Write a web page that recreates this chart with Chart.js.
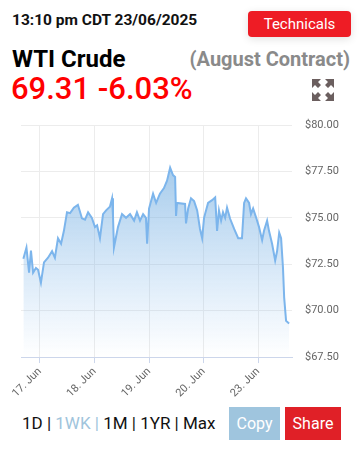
<!DOCTYPE html>
<html>
<head>
<meta charset="utf-8">
<script src="https://cdn.jsdelivr.net/npm/chart.js@4"></script>
<style>
  body { margin: 0; width: 362px; height: 462px; background: #fff; font-family: Roboto, sans-serif; position: relative; overflow: hidden; }
  .abs { position: absolute; white-space: nowrap; }
  #stamp { left: 12px; top: 11px; font-size: 15.5px; font-weight: bold; color: #111; }
  #tech { left: 248px; top: 11px; width: 103px; height: 26px; background: #ee1c25; color: #fff; border-radius: 4px; font-size: 15px; line-height: 26px; text-align: center; box-shadow: 0 2px 8px rgba(0,0,0,0.12); }
  #name { left: 12px; top: 45px; font-size: 24px; font-weight: bold; color: #000; }
  #contract { right: 12px; top: 47px; font-size: 20px; font-weight: bold; color: #8a8a8a; }
  #price { left: 11px; top: 70px; font-size: 31px; font-weight: 500; color: #ff0000; }
  #expand { left: 312px; top: 79px; }
  #wrap { left: 0; top: 105px; width: 362px; height: 297px; }
  #ranges { left: 22px; top: 413px; font-size: 17px; color: #111; }
  #ranges .on { color: #a0c4dc; }
  .btn { top: 407px; height: 33px; line-height: 33px; color: #fff; font-size: 16px; text-align: center; }
  #copy { left: 229px; width: 51px; background: #9fc5de; }
  #share { left: 285px; width: 56px; background: #e02027; }
</style>
</head>
<body>
<div class="abs" id="stamp">13:10 pm CDT 23/06/2025</div>
<div class="abs" id="tech">Technicals</div>
<div class="abs" id="name">WTI Crude</div>
<div class="abs" id="contract">(August Contract)</div>
<div class="abs" id="price">69.31 -6.03%</div>
<svg class="abs" id="expand" width="22" height="22" viewBox="0 0 22 22">
  <g fill="#6b5f5f">
    <polygon points="0,0 9,0 6,3 9,6 6,9 3,6 0,9"/>
    <polygon points="22,0 13,0 16,3 13,6 16,9 19,6 22,9"/>
    <polygon points="0,22 9,22 6,19 9,16 6,13 3,16 0,13"/>
    <polygon points="22,22 13,22 16,19 13,16 16,13 19,16 22,13"/>
  </g>
</svg>
<div class="abs" id="wrap"><canvas id="wti"></canvas></div>
<div class="abs" id="ranges">1D | <span class="on">1WK |</span> 1M | 1YR | Max</div>
<div class="abs btn" id="copy">Copy</div>
<div class="abs btn" id="share">Share</div>
<script>
// trading hours since session open (16 Jun 17:00 CT), ordinal (23h per session)
var hours = [0, 1.3, 2.4, 3.2, 4.1, 5.3, 6.2, 7.4, 8.7, 10.4, 12.1, 13.3, 14.6, 15.9, 17.1, 18.4, 19.7, 21.3, 23.0,
  24.7, 26.0, 27.3, 28.9, 30.2, 31.1, 32.3, 33.6, 34.9, 36.5, 37.4, 37.8, 38.2, 39.9, 41.6, 43.3, 45.0, 46.7, 47.9,
  49.2, 50.5, 51.7, 52.2, 53.0, 54.7, 56.0, 57.6, 59.3, 60.6, 61.9, 63.1, 64.0, 64.4, 64.8, 68.2, 68.6, 69.5, 70.7,
  72.0, 73.3, 74.5, 75.4, 76.2, 77.9, 79.6, 80.9, 81.7, 82.5, 83.4, 84.2, 85.1, 85.9, 87.2, 88.9, 90.6, 92.2, 93.1,
  93.9, 95.2, 96.0, 96.9, 98.2, 99.4, 100.7, 101.5, 102.8, 103.6, 104.9, 106.2, 107.0, 107.9, 108.7, 109.5, 110.0,
  110.8, 111.7, 112.1];
var prices = [72.8, 73.4, 72.05, 73.24, 72.05, 72.3, 72.2, 71.5, 72.6, 72.85, 73.2, 72.85, 73.9, 73.6, 74.3, 75.3, 75.25, 75.55, 75.7,
  74.97, 74.9, 75.3, 75.0, 74.5, 74.6, 73.9, 75.2, 75.4, 75.6, 76.05, 75.1, 73.4, 74.5, 75.2, 75.0, 75.2, 74.85, 75.3,
  74.85, 75.2, 75.0, 73.6, 75.5, 76.3, 75.8, 76.3, 76.6, 77.0, 77.7, 77.3, 77.2, 75.1, 75.8, 75.75, 74.7, 75.5, 76.05,
  75.9, 75.4, 74.4, 73.9, 75.0, 75.8, 75.95, 76.1, 74.3, 75.4, 74.85, 75.3, 75.0, 75.55, 74.95, 74.4, 73.9, 73.9, 75.8,
  76.05, 75.8, 75.2, 75.5, 75.0, 74.5, 73.8, 74.3, 74.85, 74.3, 73.6, 72.7, 73.2, 74.2, 73.9, 72.3, 70.7,
  69.45, 69.35, 69.31];
var tickHours = [7, 30, 53, 76, 99];
var tickLabels = ['17. Jun', '18. Jun', '19. Jun', '20. Jun', '23. Jun'];
var yTicks = [67.5, 70, 72.5, 75, 77.5, 80];

var points = hours.map(function(h, i) { return { x: h, y: prices[i] }; });

var ctx = document.getElementById('wti').getContext('2d');
var myChart = new Chart(ctx, {
  type: 'line',
  data: {
    datasets: [{
      label: 'WTI Crude',
      data: points,
      borderColor: '#7cb5ec',
      borderWidth: 2,
      pointRadius: 0,
      tension: 0,
      fill: 'start',
      backgroundColor: function(c) {
        var area = c.chart.chartArea;
        if (!area) return 'rgba(124,181,236,0.5)';
        var g = c.chart.ctx.createLinearGradient(0, area.top, 0, area.bottom);
        g.addColorStop(0, 'rgba(110,170,220,0.75)');
        g.addColorStop(1, 'rgba(124,181,236,0)');
        return g;
      }
    }]
  },
  options: {
    responsive: true,
    maintainAspectRatio: false,
    animation: false,
    layout: { padding: { left: 21, top: 20, right: 0, bottom: 0 } },
    plugins: { legend: { display: false }, tooltip: { enabled: false } },
    scales: {
      x: {
        type: 'linear',
        min: -1,
        max: 113.3,
        afterBuildTicks: function(scale) {
          scale.ticks = tickHours.map(function(v) { return { value: v }; });
        },
        afterFit: function(scale) { scale.paddingLeft = 0; scale.paddingRight = 0; },
        ticks: {
          autoSkip: false,
          maxRotation: 45,
          minRotation: 45,
          padding: 2,
          color: '#666',
          font: { family: 'Roboto', size: 11 },
          callback: function(value) {
            var i = tickHours.indexOf(value);
            return i >= 0 ? tickLabels[i] : '';
          }
        },
        grid: { color: '#ececec', tickColor: '#ccd6eb', tickLength: 6 },
        border: { color: '#ccd6eb', width: 1 }
      },
      y: {
        position: 'right',
        min: 67.5,
        max: 80,
        afterBuildTicks: function(scale) {
          scale.ticks = yTicks.map(function(v) { return { value: v }; });
        },
        afterFit: function(scale) { scale.width = 70; },
        ticks: {
          padding: 13,
          color: '#666',
          font: { family: 'Roboto', size: 11 },
          callback: function(value) { return '$' + value.toFixed(2); }
        },
        grid: { color: '#ececec', drawTicks: false },
        border: { display: false }
      }
    }
  }
});
</script>
</body>
</html>
